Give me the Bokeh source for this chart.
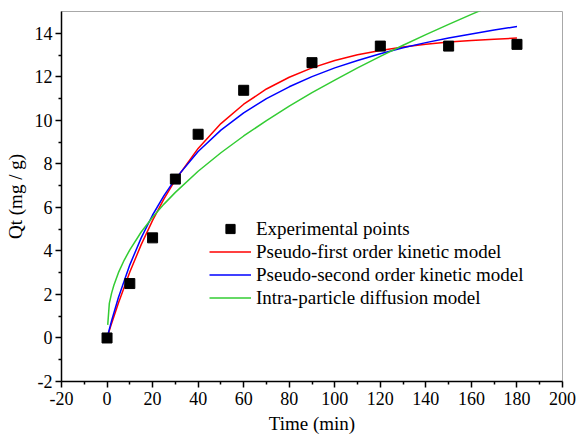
from bokeh.plotting import figure
from bokeh.models import Range1d, Legend, LegendItem, FixedTicker, CustomJSTickFormatter
from bokeh.embed import file_html
from bokeh.resources import INLINE

# Experimental data
t_exp = [0, 10, 20, 30, 40, 60, 90, 120, 150, 180]
q_exp = [0.0, 2.5, 4.6, 7.3, 9.36, 11.38, 12.65, 13.41, 13.41, 13.49]

# Model curves
t_fit = [0, 2, 5, 10, 15, 20, 25, 30, 40, 50, 60, 70, 80, 90, 100,
         110, 120, 130, 140, 150, 160, 170, 180]
q_pfo = [0.0, 0.67, 1.61, 3.03, 4.29, 5.40, 6.39, 7.26, 8.71, 9.85, 10.74,
         11.44, 11.98, 12.41, 12.75, 13.01, 13.21, 13.37, 13.50, 13.60,
         13.67, 13.73, 13.78]
q_pso = [0.0, 0.79, 1.86, 3.36, 4.60, 5.65, 6.54, 7.31, 8.57, 9.55, 10.34,
         11.00, 11.54, 12.01, 12.41, 12.75, 13.06, 13.33, 13.57, 13.78,
         13.97, 14.15, 14.31]
t_ipd = [0.3, 1, 2, 3, 5, 7.5, 10, 15, 20, 25, 30, 40, 50, 60, 70, 80, 90,
         100, 110, 120, 130, 140, 150, 160, 170, 180]
q_ipd = [0.6, 1.59, 2.06, 2.42, 3.0, 3.57, 4.05, 4.87, 5.55, 6.15, 6.69,
         7.66, 8.51, 9.28, 9.99, 10.65, 11.27, 11.85, 12.41, 12.94, 13.45,
         13.94, 14.41, 14.87, 15.31, 15.74]

x_ticks = list(range(-20, 201, 20))
y_ticks = list(range(-2, 15, 2))

FONT = "'Liberation Serif', 'Times New Roman', serif"

p = figure(width=578, height=439, output_backend="svg", toolbar_location=None,
           x_range=Range1d(-20, 200), y_range=Range1d(-2, 15),
           min_border_left=61, min_border_right=16, min_border_top=11,
           min_border_bottom=58)

p.background_fill_color = "white"
p.border_fill_color = "white"
p.outline_line_color = "#a8a8a8"
p.outline_line_width = 1
p.xgrid.visible = False
p.ygrid.visible = False

for ax, ticks in ((p.xaxis[0], x_ticks), (p.yaxis[0], y_ticks)):
    ax.ticker = FixedTicker(ticks=ticks,
                            minor_ticks=[v + (ticks[1] - ticks[0]) / 2 for v in ticks[:-1]])
    ax.formatter = CustomJSTickFormatter(code="return String(tick);")
    ax.axis_line_color = "black"
    ax.axis_line_width = 1.5
    ax.major_tick_line_color = "black"
    ax.major_tick_line_width = 1.5
    ax.minor_tick_line_color = "black"
    ax.minor_tick_line_width = 1.5
    ax.major_tick_in = 0
    ax.major_tick_out = 6
    ax.minor_tick_in = 0
    ax.minor_tick_out = 3
    ax.major_label_text_font = FONT
    ax.major_label_text_font_size = "18px"
    ax.major_label_text_color = "black"
    ax.axis_label_text_font = FONT
    ax.axis_label_text_font_size = "19px"
    ax.axis_label_text_font_style = "normal"
    ax.axis_label_text_color = "black"

p.xaxis.axis_label = "Time (min)"
p.yaxis.axis_label = "Qt (mg / g)"
p.xaxis.major_label_standoff = 4
p.yaxis.major_label_standoff = 3
p.xaxis.axis_label_standoff = 5
p.yaxis.axis_label_standoff = 6

r_pfo = p.line(t_fit, q_pfo, line_color="#FF0000", line_width=1.5)
r_pso = p.line(t_fit, q_pso, line_color="#0000FF", line_width=1.5)
r_ipd = p.line(t_ipd, q_ipd, line_color="#33CC33", line_width=1.5)
r_exp = p.scatter(t_exp, q_exp, marker="square", size=10,
                  fill_color="black", line_color="black")

legend = Legend(items=[
    LegendItem(label="Experimental points", renderers=[r_exp]),
    LegendItem(label="Pseudo-first order kinetic model", renderers=[r_pfo]),
    LegendItem(label="Pseudo-second order kinetic model", renderers=[r_pso]),
    LegendItem(label="Intra-particle diffusion model", renderers=[r_ipd]),
], location=(148, 72))
legend.background_fill_alpha = 0
legend.border_line_alpha = 0
legend.padding = 0
legend.margin = 0
legend.spacing = 0
legend.glyph_width = 42
legend.glyph_height = 23
legend.label_height = 23
legend.label_standoff = 5
legend.label_text_font = FONT
legend.label_text_font_size = "19px"
legend.label_text_color = "black"
p.add_layout(legend, "center")

open("out.html", "w").write(file_html(p, INLINE))
